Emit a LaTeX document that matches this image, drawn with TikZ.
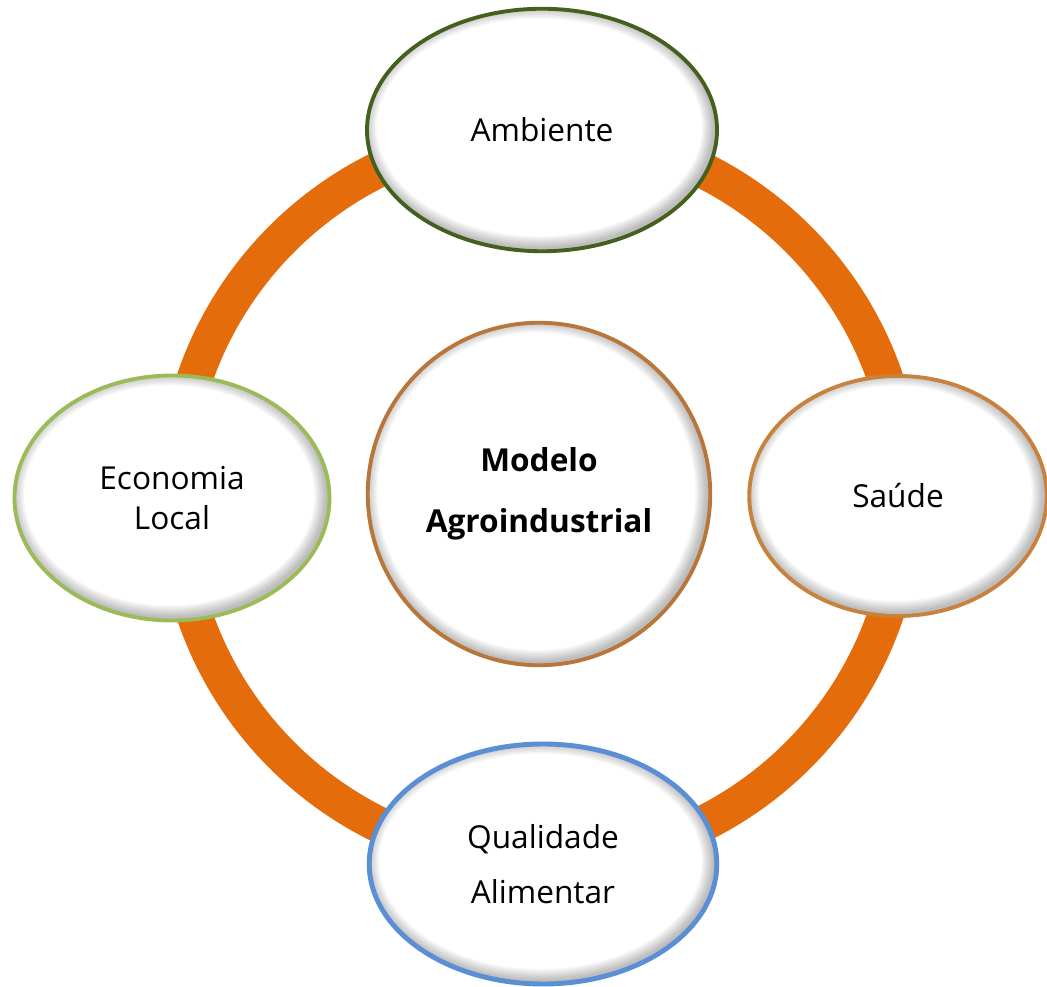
\documentclass[tikz,border=0pt]{standalone}
\usepackage{fontspec}
\setmainfont{Open Sans}
\usetikzlibrary{shapes.geometric}

\definecolor{ringorange}{HTML}{E46C0A}
\definecolor{ambgreen}{HTML}{44601F}
\definecolor{ecogreen}{HTML}{9BBB59}
\definecolor{saudebrown}{HTML}{C8823F}
\definecolor{qualblue}{HTML}{5A8FD5}
\definecolor{modelbrown}{HTML}{B8763A}

\tikzset{
    bubble/.style={ellipse, fill=white, line width=2.2pt, align=center,
        font=\fontsize{18}{23}\selectfont,
        path picture={
            \foreach \w in {2,4,...,14}
                \draw[black, opacity=0.04, line width=\w pt]
                    ([xshift=-1.5pt, yshift=1.5pt]path picture bounding box.center) ellipse
                    [x radius=\pgfkeysvalueof{/pgf/minimum width}/2,
                     y radius=\pgfkeysvalueof{/pgf/minimum height}/2];
        }},
}

\begin{document}
\begin{tikzpicture}
    \useasboundingbox (0, 0) rectangle (20.94, 19.72);

    \draw[ringorange, line width=0.72cm] (10.8, 9.78) circle (7.3);

    \node[bubble, draw=ambgreen, minimum width=7.0cm, minimum height=4.85cm] (ambiente) at(10.84, 17.12){Ambiente};
    \node[bubble, draw=ecogreen, minimum width=6.3cm, minimum height=4.9cm] (economia) at(3.44, 9.76){Economia\\Local};
    \node[bubble, draw=saudebrown, minimum width=5.95cm, minimum height=4.8cm] (saude) at(17.96, 9.8){Saúde};
    \node[bubble, draw=qualblue, line width=2.8pt, minimum width=6.95cm, minimum height=4.8cm,
        font=\fontsize{18}{31}\selectfont] (qualidade) at(10.86, 2.44){Qualidade\\Alimentar};

    \node[bubble, draw=modelbrown, minimum width=6.85cm, minimum height=6.85cm,
        font=\bfseries\fontsize{18}{35}\selectfont] (modelo) at(10.78, 9.84){Modelo\\Agroindustrial};

\end{tikzpicture}
\end{document}
